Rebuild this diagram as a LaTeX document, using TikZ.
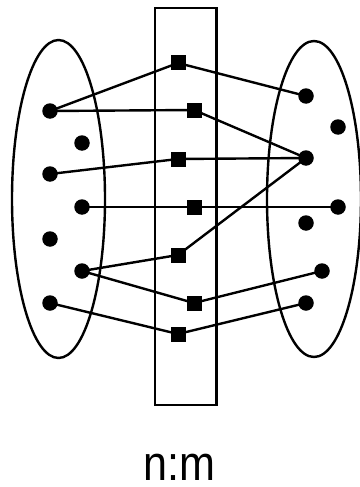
\documentclass[tikz,border=0pt]{standalone}
\usepackage{fontspec}
\setmainfont{Liberation Sans}
\begin{document}
\begin{tikzpicture}[x=1pt,y=-1pt,line width=2.4pt,
  dot/.style={circle,fill=black,inner sep=0pt,minimum size=15.5pt},
  sq/.style={rectangle,fill=black,inner sep=0pt,minimum size=15pt},
  link/.style={draw=black,line width=2.4pt}]
\useasboundingbox (0,0) rectangle (359,487);
% sets
\draw (155,8) rectangle (216.5,405);
\draw (58.5,199) ellipse [x radius=46.5, y radius=159];
\draw (314,199) ellipse [x radius=47, y radius=158];
% left dots
\node[dot] (L1) at (50,111) {};
\node[dot] (L2) at (82,143) {};
\node[dot] (L3) at (50,174) {};
\node[dot] (L4) at (82,207) {};
\node[dot] (L5) at (50,239) {};
\node[dot] (L6) at (82,271) {};
\node[dot] (L7) at (50,303) {};
% right dots
\node[dot] (R1) at (306,96) {};
\node[dot] (R2) at (338,127) {};
\node[dot] (R3) at (306,158) {};
\node[dot] (R4) at (338,207) {};
\node[dot] (R5) at (306,223) {};
\node[dot] (R6) at (322,271) {};
\node[dot] (R7) at (306,303) {};
% squares
\node[sq] (S1) at (178,63) {};
\node[sq] (S2) at (194,110) {};
\node[sq] (S3) at (178,159) {};
\node[sq] (S4) at (194,207) {};
\node[sq] (S5) at (178,255) {};
\node[sq] (S6) at (194,303) {};
\node[sq] (S7) at (178,334) {};
% links
\draw[link] (L1.center) -- (S1.center) -- (R1.center);
\draw[link] (L1.center) -- (S2.center) -- (R3.center);
\draw[link] (L3.center) -- (S3.center) -- (R3.center);
\draw[link] (L4.center) -- (S4.center) -- (R4.center);
\draw[link] (L6.center) -- (S5.center) -- (R3.center);
\draw[link] (L6.center) -- (S6.center) -- (R6.center);
\draw[link] (L7.center) -- (S7.center) -- (R7.center);
% label
\node[anchor=base,inner sep=0pt] (lbl) at (179,480) {\scalebox{0.88}[1]{\fontsize{49}{55}\selectfont n:m}};
\end{tikzpicture}
\end{document}
